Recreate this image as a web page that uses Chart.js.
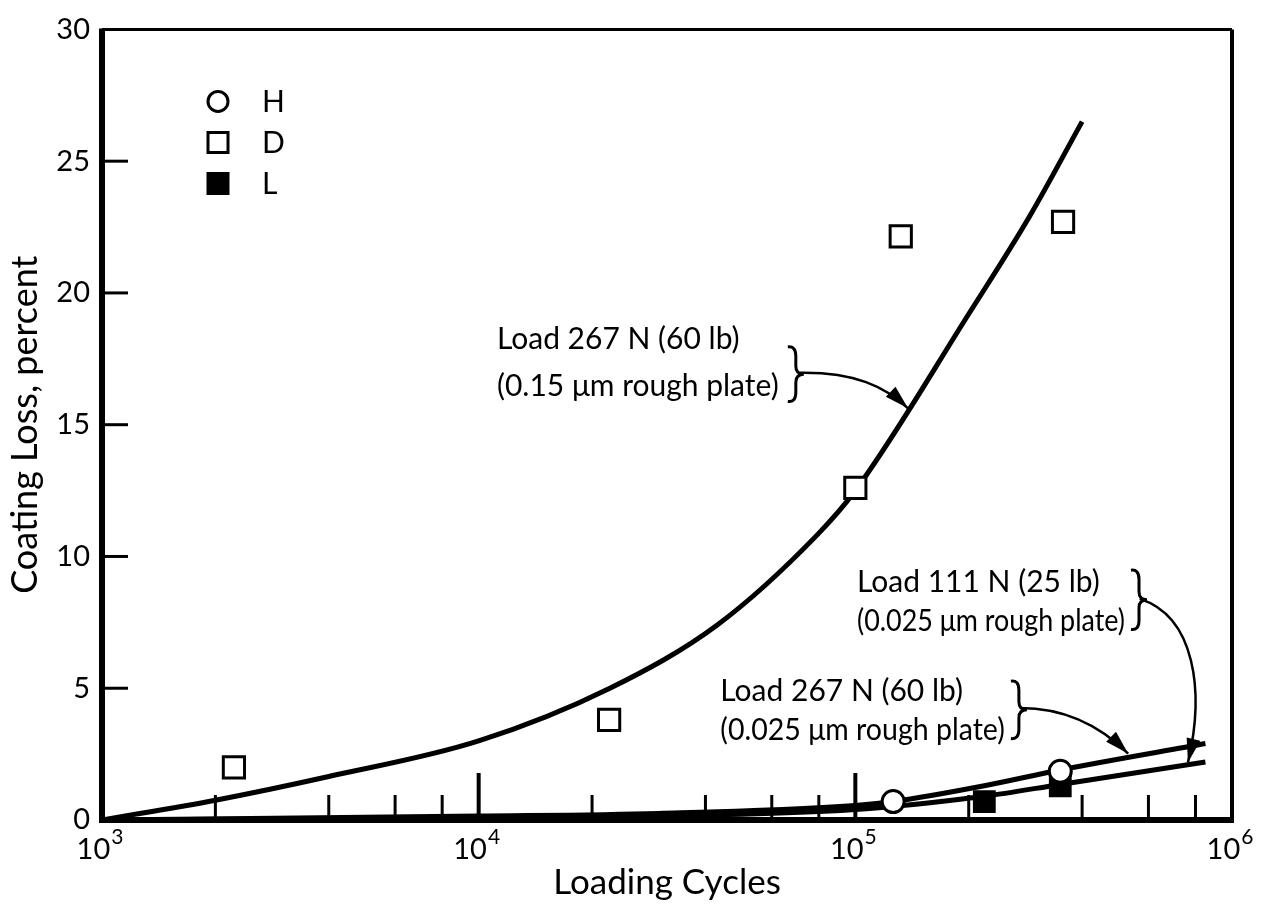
<!DOCTYPE html>
<html>
<head>
<meta charset="utf-8">
<script src="https://cdn.jsdelivr.net/npm/chart.js@4.4.0/dist/chart.umd.min.js"></script>
<style>
  html, body { margin: 0; padding: 0; background: #fff; }
</style>
</head>
<body>
<canvas id="coating-chart" width="1261" height="907"></canvas>
<script>
// tick positions
const xTicks = [1e3, 1e4, 1e5, 1e6];
const xMajorInner = [1e4, 1e5];
const xMinor = [2e3, 4e3, 6e3, 8e3, 2e4, 4e4, 6e4, 8e4, 2e5, 4e5, 6e5, 8e5];
const yInner = [5, 10, 15, 20, 25];

// measured points
const hCycles = [1.26e5, 3.5e5];
const hLoss = [0.7, 1.85];
const dCycles = [2.24e3, 2.22e4, 1.0e5, 1.32e5, 3.56e5];
const dLoss = [2.0, 3.8, 12.6, 22.15, 22.7];
const lCycles = [2.2e5, 3.5e5];
const lLoss = [0.7, 1.3];

// faired curves
const curveRoughCycles = [1e3, 2e3, 4e3, 1e4, 2.23e4, 4.3e4, 7.9e4, 1e5, 2e5, 2.9e5, 4e5];
const curveRoughLoss = [0, 0.75, 1.65, 3.0, 5.0, 7.4, 10.8, 12.5, 19.2, 22.9, 26.5];
const curve60Cycles = [1e3, 1e4, 3e4, 1e5, 1.26e5, 2.2e5, 3.5e5, 8.5e5];
const curve60Loss = [0, 0.15, 0.25, 0.55, 0.7, 1.3, 1.9, 2.9];
const curve25Cycles = [1e3, 1e4, 3e4, 1e5, 2.2e5, 3.5e5, 8.5e5];
const curve25Loss = [0, 0.08, 0.15, 0.4, 0.9, 1.35, 2.2];

const FONT = 'Lato, "Liberation Sans", sans-serif';

function pts(xs, ys) {
  return xs.map((x, i) => ({ x: x, y: ys[i] }));
}

function curve(xs, ys) {
  return {
    type: 'line',
    data: pts(xs, ys),
    borderColor: '#000',
    borderWidth: 5,
    pointRadius: 0,
    cubicInterpolationMode: 'monotone',
    order: 2
  };
}

function markers(label, xs, ys, style, radius, fill) {
  return {
    type: 'scatter',
    label: label,
    data: pts(xs, ys),
    pointStyle: style,
    pointRadius: radius,
    pointBorderWidth: 3,
    pointBorderColor: '#000',
    pointBackgroundColor: fill,
    order: 0
  };
}

function line(ctx, x1, y1, x2, y2) {
  ctx.beginPath();
  ctx.moveTo(x1, y1);
  ctx.lineTo(x2, y2);
  ctx.stroke();
}

// inner ticks, box and the 10^n labels
const frame = {
  id: 'frame',
  afterDatasetsDraw(chart) {
    const { ctx, chartArea: a, scales: { x, y } } = chart;
    ctx.save();
    ctx.strokeStyle = '#000';
    ctx.fillStyle = '#000';
    ctx.lineWidth = 3;
    xMinor.forEach(v => {
      const p = x.getPixelForValue(v);
      line(ctx, p, a.bottom, p, a.bottom - 25);
    });
    ctx.lineWidth = 4;
    xMajorInner.forEach(v => {
      const p = x.getPixelForValue(v);
      line(ctx, p, a.bottom, p, a.bottom - 47);
    });
    ctx.lineWidth = 3;
    yInner.forEach(v => {
      const p = y.getPixelForValue(v);
      line(ctx, a.left, p, a.left + 26, p);
    });
    ctx.lineWidth = 3;
    line(ctx, a.left, a.top, a.right, a.top);
    ctx.lineWidth = 4;
    line(ctx, a.right, a.top, a.right, a.bottom);
    ctx.lineWidth = 6;
    line(ctx, a.left, a.top - 1, a.left, a.bottom + 3);
    line(ctx, a.left - 3, a.bottom, a.right + 2, a.bottom);

    ctx.textBaseline = 'alphabetic';
    xTicks.forEach(v => {
      const p = x.getPixelForValue(v);
      const exp = String(Math.round(Math.log10(v)));
      ctx.font = '29px ' + FONT;
      const wb = ctx.measureText('10').width;
      ctx.font = '21px ' + FONT;
      const we = ctx.measureText(exp).width;
      const left = p - (wb + we + 1) / 2 - 2;
      ctx.font = '29px ' + FONT;
      ctx.fillText('10', left, a.bottom + 39);
      ctx.font = '21px ' + FONT;
      ctx.fillText(exp, left + wb + 1, a.bottom + 24);
    });
    ctx.restore();
  }
};

// symbol key in the upper left
const key = {
  id: 'key',
  afterDatasetsDraw(chart) {
    const { ctx, chartArea: a } = chart;
    const rows = [['H', 'circle'], ['D', 'open'], ['L', 'filled']];
    ctx.save();
    ctx.strokeStyle = '#000';
    ctx.fillStyle = '#000';
    ctx.lineWidth = 3;
    ctx.font = '30px ' + FONT;
    ctx.textBaseline = 'middle';
    rows.forEach((r, i) => {
      const cx = a.left + 116;
      const cy = a.top + 72 + i * 41;
      ctx.beginPath();
      if (r[1] === 'circle') {
        ctx.arc(cx, cy, 10, 0, Math.PI * 2);
        ctx.stroke();
      } else if (r[1] === 'open') {
        ctx.rect(cx - 10, cy - 10, 20, 20);
        ctx.stroke();
      } else {
        ctx.rect(cx - 10, cy - 10, 20, 20);
        ctx.fill();
        ctx.stroke();
      }
      ctx.fillText(r[0], cx + 44, cy + 1);
    });
    ctx.restore();
  }
};

// labels with braces and arrows, placed in data coordinates
const notes = [
  {
    lines: ['Load 267 N (60 lb)', '(0.15 \u03bcm rough plate)'],
    text: [1.118e4, 18.25, 16.45],
    brace: [6.7e4, 17.95, 15.88],
    arrow: [[7.13e4, 16.97], [9.97e4, 17.0], [1.2e5, 16.45], [1.38e5, 15.62]]
  },
  {
    lines: ['Load 111 N (25 lb)', '(0.025 \u03bcm rough plate)'],
    text: [1.01e5, 9.03, 7.53],
    brace: [5.46e5, 9.48, 7.23],
    arrow: [[5.69e5, 8.39], [7.98e5, 7.72], [8.47e5, 4.89], [7.64e5, 2.18]]
  },
  {
    lines: ['Load 267 N (60 lb)', '(0.025 \u03bcm rough plate)'],
    text: [4.38e4, 4.89, 3.39],
    brace: [2.62e5, 5.27, 3.09],
    arrow: [[2.74e5, 4.25], [3.71e5, 4.25], [4.6e5, 3.39], [5.3e5, 2.52]]
  }
];

const callouts = {
  id: 'callouts',
  afterDatasetsDraw(chart) {
    const { ctx, scales: { x, y } } = chart;
    const P = (v) => [x.getPixelForValue(v[0]), y.getPixelForValue(v[1])];
    ctx.save();
    ctx.fillStyle = '#000';
    ctx.strokeStyle = '#000';
    ctx.font = '30px ' + FONT;
    ctx.textBaseline = 'middle';
    notes.forEach(n => {
      const tx = x.getPixelForValue(n.text[0]);
      const bx = x.getPixelForValue(n.brace[0]);
      const room = bx - tx - 8;
      ctx.fillText(n.lines[0], tx, y.getPixelForValue(n.text[1]), room);
      ctx.fillText(n.lines[1], tx, y.getPixelForValue(n.text[2]), room);

      // brace
      const t = y.getPixelForValue(n.brace[1]);
      const b = y.getPixelForValue(n.brace[2]);
      const m = (t + b) / 2;
      const w = 6;
      ctx.lineWidth = 3;
      ctx.beginPath();
      ctx.moveTo(bx - 2, t);
      ctx.quadraticCurveTo(bx + w, t - 1, bx + w, t + 9);
      ctx.lineTo(bx + w, m - 8);
      ctx.quadraticCurveTo(bx + w, m, bx + 2 * w + 2, m);
      ctx.quadraticCurveTo(bx + w, m, bx + w, m + 8);
      ctx.lineTo(bx + w, b - 9);
      ctx.quadraticCurveTo(bx + w, b + 1, bx - 2, b);
      ctx.stroke();

      // arrow
      const [s, c1, c2, e] = n.arrow.map(P);
      ctx.lineWidth = 2.5;
      ctx.beginPath();
      ctx.moveTo(s[0], s[1]);
      ctx.bezierCurveTo(c1[0], c1[1], c2[0], c2[1], e[0], e[1]);
      ctx.stroke();
      const ang = Math.atan2(e[1] - c2[1], e[0] - c2[0]);
      const L = 24, W = 7;
      ctx.beginPath();
      ctx.moveTo(e[0], e[1]);
      ctx.lineTo(e[0] - L * Math.cos(ang) + W * Math.sin(ang), e[1] - L * Math.sin(ang) - W * Math.cos(ang));
      ctx.lineTo(e[0] - L * Math.cos(ang) - W * Math.sin(ang), e[1] - L * Math.sin(ang) + W * Math.cos(ang));
      ctx.closePath();
      ctx.fill();
    });
    ctx.restore();
  }
};

new Chart(document.getElementById('coating-chart'), {
  data: {
    datasets: [
      curve(curveRoughCycles, curveRoughLoss),
      curve(curve60Cycles, curve60Loss),
      curve(curve25Cycles, curve25Loss),
      markers('H', hCycles, hLoss, 'circle', 11, '#fff'),
      markers('D', dCycles, dLoss, 'rect', 15, '#fff'),
      markers('L', lCycles, lLoss, 'rect', 14, '#000')
    ]
  },
  options: {
    responsive: false,
    animation: false,
    layout: { padding: { top: 23, right: 29, left: 0, bottom: 0 } },
    scales: {
      x: {
        type: 'logarithmic',
        min: 1e3,
        max: 1e6,
        afterBuildTicks: s => { s.ticks = xTicks.map(v => ({ value: v })); },
        afterFit: s => { s.height = 87; },
        grid: { display: false, drawTicks: false },
        border: { display: false },
        ticks: { display: false },
        title: {
          display: true,
          text: 'Loading Cycles',
          color: '#000',
          font: { family: FONT, size: 35 },
          padding: { top: 0, bottom: 3 }
        }
      },
      y: {
        min: 0,
        max: 30,
        afterFit: s => { s.width = 102; },
        grid: { display: false, drawTicks: false },
        border: { display: false },
        ticks: {
          stepSize: 5,
          padding: 12,
          color: '#000',
          font: { family: FONT, size: 29 }
        },
        title: {
          display: true,
          text: 'Coating Loss, percent',
          color: '#000',
          font: { family: FONT, size: 36 },
          padding: { top: 4, bottom: 0 }
        }
      }
    },
    plugins: {
      legend: { display: false },
      tooltip: { enabled: false }
    }
  },
  plugins: [frame, key, callouts]
});
</script>
</body>
</html>
